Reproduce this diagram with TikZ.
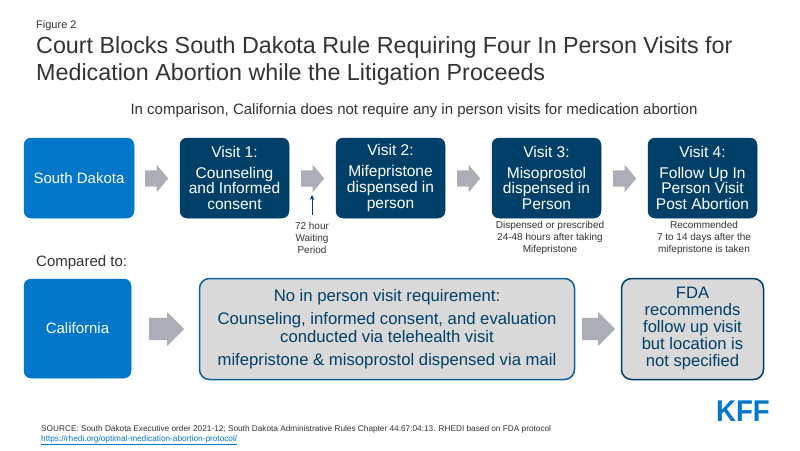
\documentclass[tikz,border=0pt]{standalone}
\usepackage{fontspec}
\setmainfont{Liberation Sans}
\usetikzlibrary{shapes.arrows,arrows.meta}
\definecolor{navy}{HTML}{003F67}
\definecolor{kffblue}{HTML}{0077C8}
\definecolor{ruleblue}{HTML}{0F5F99}
\definecolor{arrowgray}{HTML}{ABAEB6}
\definecolor{boxgray}{HTML}{D9D9D9}
\definecolor{textgray}{HTML}{333333}
\tikzset{
  state/.style={draw=kffblue,fill=kffblue,text=white,rounded corners=7pt,line width=0.5pt,align=center,inner sep=0pt},
  visit/.style={draw=navy,fill=navy,text=white,rounded corners=7pt,line width=0.5pt,align=center,inner sep=0pt,minimum width=109pt,minimum height=80pt,font=\fontsize{15.5}{15.7}\selectfont},
  note/.style={draw=navy,fill=boxgray,text=navy,rounded corners=10pt,line width=1.5pt,align=center,inner sep=0pt},
  blockarrow/.style={single arrow,anchor=tail,fill=arrowgray,inner xsep=0pt,inner ysep=8pt,single arrow head extend=5.5pt,single arrow tip angle=100,minimum width=27pt,minimum height=23pt},
  bigarrow/.style={single arrow,anchor=tail,fill=arrowgray,inner xsep=0pt,inner ysep=11pt,single arrow head extend=6pt,single arrow tip angle=90,minimum width=34pt,minimum height=35pt},
  small/.style={text=textgray,align=center,inner sep=0pt,font=\fontsize{10}{12}\selectfont},
  plain/.style={text=textgray,anchor=base west,inner sep=0pt}
}
\begin{document}
\begin{tikzpicture}[x=1pt,y=-1pt]
\useasboundingbox[fill=white] (0,0) rectangle (800,450);
% heading
\node[plain,font=\fontsize{11}{13}\selectfont] (figure) at (36,28) {Figure 2};
\node[plain,anchor=north west,align=left,font=\fontsize{23.3}{27}\selectfont] (title) at (36,36) {Court Blocks South Dakota Rule Requiring Four In Person Visits for\\Medication Abortion while the Litigation Proceeds};
\node[plain,anchor=base,font=\fontsize{15}{17}\selectfont] (subtitle) at (414,114) {In comparison, California does not require any in person visits for medication abortion};
% top row
\node[state,minimum width=110pt,minimum height=80pt,font=\fontsize{15}{17}\selectfont] (sd) at (79,178) {South Dakota};
\node[visit] (visit1) at (234.5,178) {Visit 1:\\[5pt]Counseling\\and Informed\\consent};
\node[visit] (visit2) at (390.5,178) {Visit 2:\\[5pt]Mifepristone\\dispensed in\\person};
\node[visit] (visit3) at (546.5,178) {Visit 3:\\[5pt]Misoprostol\\dispensed in\\Person};
\node[visit] (visit4) at (702.5,178) {Visit 4:\\[5pt]Follow Up In\\Person Visit\\Post Abortion};
\node[blockarrow] (arrow1) at (145,178.5) {};
\node[blockarrow] (arrow2) at (301,178.5) {};
\node[blockarrow] (arrow3) at (457,178.5) {};
\node[blockarrow] (arrow4) at (613,178.5) {};
% notes under the visits
\node[small] (wait) at (312,237.5) {72 hour\\Waiting\\Period};
\node[small] (when3) at (550,238) {Dispensed or prescribed\\24-48 hours after taking\\Mifepristone};
\node[small] (when4) at (704,238) {Recommended\\7 to 14 days after the\\mifepristone is taken};
\coordinate (waittip) at (312,195);
\coordinate (waittail) at (312,215);
\draw[navy,line width=1pt,-{Stealth[length=5pt,width=4.5pt]}] (waittail) -- (waittip);
\node[plain,font=\fontsize{15}{17}\selectfont] (compared) at (36,266) {Compared to:};
% bottom row
\node[state,minimum width=107pt,minimum height=99pt,font=\fontsize{15}{17}\selectfont] (ca) at (77.5,328.5) {California};
\node[note,draw=ruleblue,minimum width=375pt,minimum height=101pt] (rules) at (387,329) {};
\node[text=navy,align=center,inner sep=0pt,font=\fontsize{16.7}{17.5}\selectfont] (rulestext) at (387,329) {No in person visit requirement:\\[6pt]Counseling, informed consent, and evaluation\\conducted via telehealth visit\\[6pt]mifepristone \& misoprostol dispensed via mail};
\node[note,minimum width=142pt,minimum height=101pt,font=\fontsize{16.6}{17}\selectfont] (fda) at (692.5,329) {FDA\\recommends\\follow up visit\\but location is\\not specified};
\node[bigarrow] (arrow5) at (149,329) {};
\node[bigarrow,minimum height=33pt] (arrow6) at (582,329) {};
% source
\node[plain,font=\fontsize{8.26}{10}\selectfont] (source) at (41,431) {SOURCE: South Dakota Executive order 2021-12; South Dakota Administrative Rules Chapter 44:67:04:13. RHEDI based on FDA protocol};
\node[plain,text=kffblue,font=\fontsize{8.26}{10}\selectfont] (link) at (41,441) {\underline{https://rhedi.org/optimal-medication-abortion-protocol/}};
\node[text=kffblue,inner sep=0pt,font=\fontsize{30}{30}\bfseries\selectfont] (kff) at (743,411) {\scalebox{0.92}[1]{KFF}};
\end{tikzpicture}
\end{document}
